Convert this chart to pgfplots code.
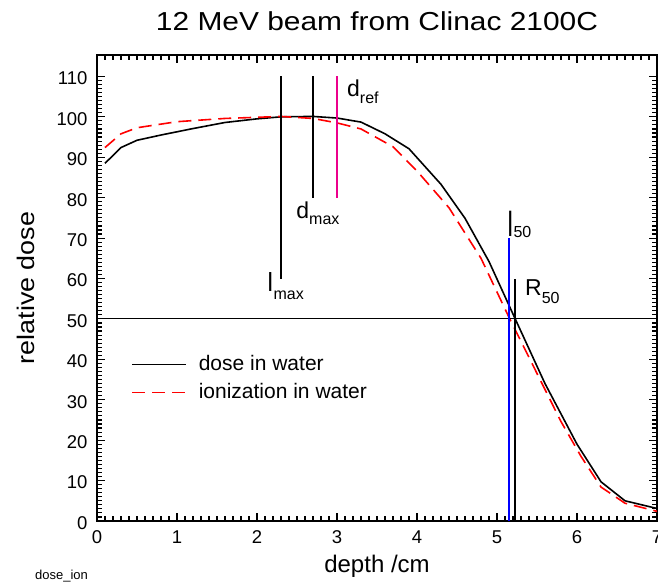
\documentclass[border=0pt]{standalone}
\usepackage{fontspec}
\setmainfont{Liberation Sans}
\usepackage{graphicx}
\usepackage{pgfplots}
\pgfplotsset{compat=1.18}

% label with subscript: #1 main, #2 subscript, #3 drop of subscript
\newcommand\lab[3]{\fontsize{23}{23}\selectfont #1\raisebox{-#3}{\fontsize{16}{16}\selectfont #2}}

\begin{document}
\begin{tikzpicture}
\begin{axis}[
  width=560pt, height=466pt, scale only axis,
  xmin=0, xmax=7, ymin=0, ymax=115.3,
  xtick={0,1,...,7}, ytick={0,10,...,110},
  minor x tick num=9, minor y tick num=9,
  tick align=inside,
  major tick length=8pt, minor tick length=5pt,
  every tick/.style={black, line width=1.1pt},
  axis line style={line width=1.6pt},
  tick label style={font=\fontsize{18.5}{18.5}\selectfont},
  xticklabel style={yshift=-6pt},
  yticklabel style={xshift=-6pt, yshift=-2pt},
  /pgf/number format/assume math mode=true,
  xlabel={depth /cm},
  xlabel style={at={(axis description cs:0.5,0)}, anchor=base, yshift=-51pt, font=\fontsize{24}{24}\selectfont},
  ylabel={\scalebox{1.12}[1]{relative dose}},
  ylabel style={at={([xshift=-62pt]axis description cs:0,0.5)}, anchor=base, font=\fontsize{24}{24}\selectfont},
  clip=false,
  legend style={at={(axis cs:0.425,41.6)}, anchor=north west, draw=none, fill=none,
    inner sep=0pt, row sep=5pt, font=\fontsize{21}{21}\selectfont,
    nodes={inner sep=2pt, text height=15pt, text depth=4pt}},
  legend cell align=left,
  legend image code/.code={\draw[#1] (0pt,0pt) -- (54pt,0pt);},
]
\addplot[black, line width=1.6pt] coordinates {
  (0.1,88.5) (0.3,92.4) (0.5,94.2) (0.8,95.5) (1.2,97.1) (1.6,98.6)
  (2.0,99.5) (2.3,100.0) (2.7,100.1) (3.0,99.7) (3.3,98.7) (3.6,95.8)
  (3.9,92.1) (4.3,83.3) (4.6,74.9) (4.9,64.2) (5.2,51.2) (5.6,34.0)
  (5.8,26.5) (6.0,19.0) (6.3,9.7) (6.6,5.0) (7.0,3.1)
};
\addlegendentry{\hspace{10pt}dose in water}
\addplot[red, line width=1.6pt, dash pattern=on 13pt off 7pt] coordinates {
  (0.1,92.4) (0.3,95.8) (0.5,97.3) (1.0,98.8) (1.6,99.6) (2.3,100.1)
  (2.7,99.6) (3.0,98.5) (3.3,97.0) (3.7,92.6) (4.0,86.6) (4.4,77.5)
  (4.8,65.0) (5.14,50.8) (5.5,36.5) (5.8,24.6) (6.05,16.0) (6.3,8.4)
  (6.6,4.4) (7.0,2.4)
};
\addlegendentry{\hspace{10pt}ionization in water}

% reference lines
\addplot[black, line width=0.9pt, forget plot] coordinates {(0,50) (7,50)};
\addplot[black, line width=1.6pt, forget plot] coordinates {(2.3,60) (2.3,110)};
\addplot[black, line width=1.6pt, forget plot] coordinates {(2.7,80) (2.7,110)};
\addplot[magenta, line width=1.6pt, forget plot] coordinates {(3.0,80) (3.0,110)};
\addplot[blue, line width=1.6pt, forget plot] coordinates {(5.15,0) (5.15,70)};
\addplot[black, line width=1.6pt, forget plot] coordinates {(5.225,0) (5.225,60)};

\node[anchor=base west, inner sep=0pt] at (axis cs:2.125,56.8) {\lab{\scalebox{1}[1.2]{I}}{max}{8pt}};
\node[anchor=base west, inner sep=0pt] at (axis cs:2.49,74.9) {\lab{d}{max}{6pt}};
\node[anchor=base west, inner sep=0pt] at (axis cs:3.125,105) {\lab{d}{ref}{7pt}};
\node[anchor=base west, inner sep=0pt] at (axis cs:5.125,70.4) {\lab{\scalebox{1}[1.6]{I}}{50}{1pt}};
\node[anchor=base west, inner sep=0pt] at (axis cs:5.35,55.9) {\lab{R}{50}{8pt}};

\node[anchor=base, inner sep=0pt, font=\fontsize{26}{26}\selectfont] at (rel axis cs:0.5,1) [yshift=24pt] {\scalebox{1.15}[1]{12 MeV beam from Clinac 2100C}};
\node[anchor=base west, inner sep=0pt, font=\fontsize{13}{13}\selectfont] at (rel axis cs:0,0) [xshift=-62pt, yshift=-58pt] {dose\_ion};
\end{axis}
\pgfresetboundingbox
\path ([xshift=-97pt,yshift=-62pt]current axis.south west) rectangle ([xshift=1pt,yshift=55pt]current axis.north east);
\end{tikzpicture}
\end{document}
